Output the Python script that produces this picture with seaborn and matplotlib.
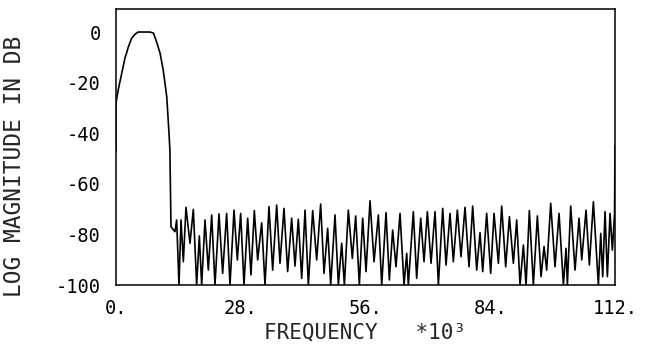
import numpy as np
import pandas as pd
import matplotlib
matplotlib.use("Agg")
import matplotlib.pyplot as plt
import seaborn as sns
from matplotlib.ticker import FixedLocator, MultipleLocator

# ---- data (frequency in units of 10^3, magnitude in dB) ----
pass_freq = [0.0, 0.0, 0.5, 1.3, 2.0, 2.8, 3.5, 4.3, 5.0, 7.6, 8.4, 9.1, 9.9,
             10.6, 11.4, 11.9, 12.1, 12.3, 12.35]
pass_db = [-47, -28, -22.9, -16.3, -10.4, -5.8, -2.5, -0.8, 0.0, 0.0, -0.4, -3.8,
           -8.4, -15.0, -25.6, -40.0, -46.6, -69.0, -77.0]

stop_freq = [13.24, 13.62, 14.14, 14.59, 15.12, 15.71, 16.61, 17.36, 18.11, 18.71,
             19.23, 19.98, 20.73, 21.48, 22.22, 23.12, 23.94, 24.84, 25.59, 26.49,
             27.24, 27.98, 28.73, 29.56, 30.3, 31.05, 31.8, 32.7, 33.45, 34.34,
             35.17, 36.07, 36.81, 37.71, 38.53, 39.43, 40.18, 40.93, 41.68, 42.43,
             43.18, 44.15, 45.05, 45.94, 46.69, 47.51, 48.19, 49.16, 49.91, 50.66,
             51.26, 52.15, 53.05, 53.8, 54.62, 55.37, 56.12, 57.02, 57.92, 58.89,
             59.64, 60.61, 61.36, 62.1, 62.85, 63.75, 64.65, 65.25, 65.62, 66.74,
             67.49, 68.39, 69.14, 69.89, 70.71, 71.61, 72.36, 73.33, 74.08, 74.97,
             75.72, 76.62, 77.44, 78.34, 79.24, 80.06, 80.96, 81.71, 82.31, 83.2,
             84.1, 84.85, 85.83, 86.57, 87.47, 88.3, 89.19, 89.94, 90.69, 91.44,
             92.04, 92.78, 93.68, 94.58, 95.4, 96.08, 96.67, 97.57, 98.54, 99.44,
             100.42, 101.01, 101.31, 102.06, 103.03, 103.93, 104.53, 105.5, 106.25, 107.15,
             108.27, 108.8, 109.24, 109.77, 110.29, 110.89, 111.41]
stop_db = [-78.9, -74.3, -100, -74.3, -90.8, -69.3, -83.5, -70.1, -100, -80.6,
           -100, -74.3, -94.1, -72.3, -100, -71.9, -95.4, -71.7, -100, -70.4,
           -90.1, -71.7, -100, -73.6, -96.0, -70.6, -90.1, -75.4, -100, -69.0,
           -94.1, -68.4, -91.4, -69.7, -94.7, -73.6, -92.5, -74.0, -97.4, -70.4,
           -100, -70.6, -90.1, -68.0, -95.4, -77.6, -100, -72.3, -100, -83.5,
           -100, -70.4, -89.5, -72.7, -100, -73.6, -94.7, -66.7, -90.8, -72.3,
           -100, -71.4, -98.0, -78.3, -92.8, -71.7, -100, -87.5, -100, -71.0,
           -97.4, -73.6, -90.8, -71.0, -91.4, -71.0, -100, -69.7, -92.1, -71.7,
           -90.8, -70.4, -88.8, -69.3, -92.8, -68.8, -94.1, -79.3, -94.7, -71.7,
           -95.4, -71.7, -91.4, -68.8, -92.8, -73.0, -91.4, -74.3, -100, -84.2,
           -100, -70.6, -100, -72.7, -96.7, -84.8, -94.1, -67.7, -92.8, -71.7,
           -100, -85.5, -100, -68.8, -94.1, -73.6, -90.1, -70.4, -92.1, -67.1,
           -100, -79.6, -96.7, -71.0, -96.7, -71.7, -86.2]

edge_freq = [111.9, 112.0]
edge_db = [-72.0, -45.0]

x_ticks = [0, 28, 56, 84, 112]
x_tick_labels = ["0.", "28.", "56.", "84.", "112."]
y_ticks = [0, -20, -40, -60, -80, -100]
y_tick_labels = ["0", "-20", "-40", "-60", "-80", "-100"]

df = pd.DataFrame({
    "freq": pass_freq + stop_freq + edge_freq,
    "db": pass_db + stop_db + edge_db,
})

sns.set_style("white")
plt.rcParams["font.family"] = ["DejaVu Sans Mono", "DejaVu Sans"]

fig = plt.figure(figsize=(6.65, 3.45), dpi=100)
ax = fig.add_axes([0.1744, 0.1739, 0.7504, 0.800])

sns.lineplot(data=df, x="freq", y="db", sort=False, estimator=None,
             color="black", linewidth=1.2, ax=ax)

ax.set_xlim(0, 112)
ax.set_ylim(-100, 9.1)

ax.xaxis.set_major_locator(FixedLocator(x_ticks))
ax.set_xticklabels(x_tick_labels)
ax.xaxis.set_minor_locator(MultipleLocator(5.6))
ax.yaxis.set_major_locator(FixedLocator(y_ticks))
ax.set_yticklabels(y_tick_labels)
ax.yaxis.set_minor_locator(MultipleLocator(10))

ax.tick_params(axis="both", which="major", direction="in", length=4, width=0.9,
               labelsize=13.5, colors="black")
ax.tick_params(axis="both", which="minor", direction="in", length=2.5, width=0.8)
ax.tick_params(axis="x", which="major", pad=10)
ax.tick_params(axis="y", which="major", pad=11)

for s in ax.spines.values():
    s.set_color("black")
    s.set_linewidth(1.1)

ax.set_xlabel("FREQUENCY   *10³", fontsize=15, labelpad=3)
ax.set_ylabel("LOG MAGNITUDE IN DB", fontsize=16.5)
ax.yaxis.set_label_coords(-0.18, 0.43)

fig.savefig("out.png", dpi=100, facecolor="white")
